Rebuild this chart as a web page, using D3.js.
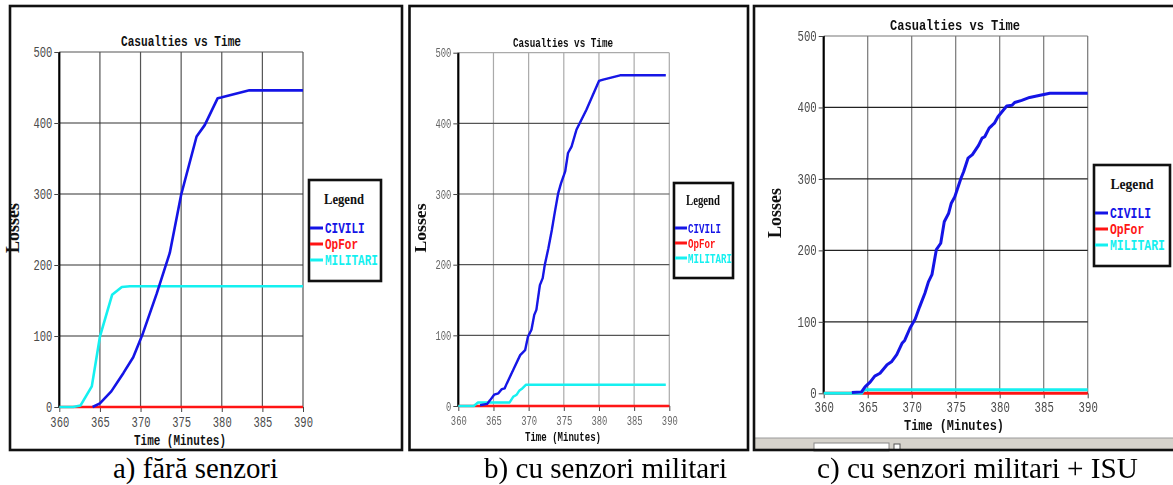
<!DOCTYPE html>
<html>
<head>
<meta charset="utf-8">
<script src="https://cdn.jsdelivr.net/npm/d3@7/dist/d3.min.js"></script>
<style>
  html, body { margin: 0; padding: 0; background: #fff; }
  svg { display: block; }
</style>
</head>
<body>
<script>
// ---- data ----
const timeTicks = [360, 365, 370, 375, 380, 385, 390];
const lossTicks = [0, 100, 200, 300, 400, 500];
const seriesNames = ["CIVILI", "OpFor", "MILITARI"];
const chartTitle = "Casualties vs Time";
const xTitle = "Time (Minutes)";
const yTitle = "Losses";
const legendTitle = "Legend";
const panelCaptions = ["a) fără senzori", "b) cu senzori militari", "c) cu senzori militari + ISU"];

// a) without sensors  [minute, losses]
const civiliA = [[364.1,0],[365,5],[366.4,22],[367.9,48],[369.1,70],[370.3,104],[372,160],[373.6,217],[375,299],[376.9,381],[377.9,397],[379.5,435],[379.9,436],[383.4,446],[390,446]];
const opforA = [[360,0],[390,0]];
const militariA = [[360,0],[361.7,0],[362.6,2],[364,29],[365,99],[366.5,158],[367.7,169],[368.7,170],[390,170]];

// b) with military sensors
const civiliB = [[363.1,1],[364.1,3],[364.5,8],[365.1,16],[365.7,18],[366.2,24],[366.6,25],[366.9,32],[367.8,51],[368.8,72],[369.5,79],[369.9,98],[370.4,108],[370.8,129],[371.1,136],[371.6,171],[372,181],[372.3,200],[372.8,223],[373.3,249],[373.7,273],[374.2,301],[374.6,315],[375.2,332],[375.6,358],[376.1,367],[376.8,391],[378.2,419],[380,460],[380.6,462],[383,468],[389.5,468]];
const opforB = [[360,0],[390,0]];
const militariB = [[360,0],[362.2,0],[362.8,5],[367.3,5],[367.8,13],[368.3,16],[368.7,22],[369,24],[369.6,30],[389.5,30]];

// c) with military sensors + ISU
const civiliC = [[363.2,1],[364.3,2],[364.7,9],[365.3,16],[365.8,24],[366.4,28],[367.2,40],[367.7,44],[368.3,54],[368.9,70],[369.2,74],[369.8,91],[370.4,104],[370.9,121],[371.5,140],[371.9,156],[372.3,166],[372.8,201],[373.3,210],[373.7,240],[374.2,252],[374.5,266],[374.9,275],[375.6,301],[375.9,310],[376.4,329],[376.9,334],[377.6,347],[378,357],[378.3,359],[378.8,371],[379.4,378],[379.8,387],[380.4,396],[380.8,402],[381.4,403],[381.7,407],[382.5,410],[383.4,414],[384.6,417],[385.7,420],[390,420]];
const opforC = [[360,0],[390,0]];
const militariC = [[360,0],[364.3,0],[364.6,5],[390,5]];

// ---- styles ----
const colors = { CIVILI: "#1414e6", OpFor: "#ff1414", MILITARI: "#14f0f0" };
const MONO = "'Liberation Mono', 'DejaVu Sans Mono', monospace";
const SERIF = "'Liberation Serif', 'Times New Roman', serif";

const W = 1173, H = 485;
const svg = d3.select("body").append("svg").attr("width", W).attr("height", H);

const defs = svg.append("defs");
defs.append("filter").attr("id", "soft").attr("x", "-5%").attr("y", "-5%").attr("width", "110%").attr("height", "110%")
  .append("feGaussianBlur").attr("stdDeviation", 0.55);

const panels = [
  {
    series: { CIVILI: civiliA, OpFor: opforA, MILITARI: militariA },
    frame: { x: 10, y: 6, w: 392, h: 444 },
    plot: { x0: 59.3, x1: 303, top: 52, bottom: 407 },
    tickFont: 14, tickCharW: 6.3, tickColor: "#4a4a4a", tickPad: 5,
    vGrid: "#555", hGrid: "#333",
    title: { x: 181, y: 46, size: 14, len: 120 },
    yLab: { x: 19, y: 228, size: 18, len: 50 },
    xLab: { x: 180, y: 445, size: 14, len: 92 },
    legend: { x: 309, y: 180, w: 72, h: 101, tx: 344, ty: 204, tsize: 14, tlen: 40, lx0: 310, lx1: 323, textX: 325, rows: [228, 244, 260], size: 14, len: 53 },
    lineW: 2.6, blur: false, caption: { x: 195.5, len: 165 }
  },
  {
    series: { CIVILI: civiliB, OpFor: opforB, MILITARI: militariB },
    frame: { x: 409.5, y: 6, w: 338.5, h: 444 },
    plot: { x0: 458.3, x1: 669.3, top: 52.7, bottom: 406 },
    tickFont: 13, tickCharW: 5.3, tickColor: "#666", tickPad: 5,
    vGrid: "#aaa", hGrid: "#555",
    title: { x: 563, y: 47, size: 13, len: 100 },
    yLab: { x: 426, y: 228, size: 17, len: 49 },
    xLab: { x: 563, y: 441, size: 13, len: 76 },
    legend: { x: 674, y: 183, w: 59, h: 95, tx: 703, ty: 205, tsize: 14, tlen: 34, lx0: 675, lx1: 687, textX: 688, rows: [228, 243, 258], size: 13, len: 44 },
    lineW: 2.4, blur: true, caption: { x: 605.5, len: 243 }
  },
  {
    series: { CIVILI: civiliC, OpFor: opforC, MILITARI: militariC },
    frame: { x: 754, y: 6, w: 425, h: 444 },
    plot: { x0: 823.7, x1: 1087.7, top: 36, bottom: 393.3 },
    tickFont: 14, tickCharW: 6.4, tickColor: "#4a4a4a", tickPad: 4,
    vGrid: "#777", hGrid: "#222",
    title: { x: 955, y: 30, size: 14.5, len: 130 },
    yLab: { x: 781, y: 213, size: 18, len: 50 },
    xLab: { x: 954, y: 430, size: 14.5, len: 100 },
    legend: { x: 1094, y: 165, w: 76, h: 101, tx: 1132, ty: 189, tsize: 15, tlen: 43, lx0: 1095, lx1: 1108, textX: 1110, rows: [213, 229, 245], size: 14, len: 55 },
    lineW: 3, blur: false, caption: { x: 977.5, len: 321 }, toolbar: true
  }
];

panels.forEach((p, i) => {
  const g = svg.append("g");
  if (p.blur) g.attr("filter", "url(#soft)");

  // panel frame (and the control strip at the bottom of the last panel)
  if (p.toolbar) {
    g.append("rect").attr("x", p.frame.x).attr("y", 438).attr("width", W - p.frame.x).attr("height", 11)
      .attr("fill", "#d6d3cc");
    g.append("line").attr("x1", p.frame.x).attr("x2", W).attr("y1", 438).attr("y2", 438).attr("stroke", "#9a9a9a");
    g.append("rect").attr("x", 814).attr("y", 443).attr("width", 75).attr("height", 8)
      .attr("fill", "#fff").attr("stroke", "#888").attr("stroke-width", 1);
    g.append("rect").attr("x", 894).attr("y", 444).attr("width", 6).attr("height", 6)
      .attr("fill", "#fff").attr("stroke", "#555").attr("stroke-width", 1);
  }
  g.append("rect").attr("x", p.frame.x).attr("y", p.frame.y).attr("width", p.frame.w).attr("height", p.frame.h)
    .attr("fill", "none").attr("stroke", "#111").attr("stroke-width", 2.6);

  const x = d3.scaleLinear().domain([360, 390]).range([p.plot.x0, p.plot.x1]);
  const y = d3.scaleLinear().domain([0, 500]).range([p.plot.bottom, p.plot.top]);

  // grid
  g.append("g").selectAll("line").data(timeTicks.slice(1)).join("line")
    .attr("x1", d => x(d)).attr("x2", d => x(d))
    .attr("y1", y(0)).attr("y2", y(500))
    .attr("stroke", p.vGrid).attr("stroke-width", 1.2);
  g.append("g").selectAll("line").data(lossTicks.slice(1)).join("line")
    .attr("x1", x(360)).attr("x2", x(390))
    .attr("y1", d => y(d)).attr("y2", d => y(d))
    .attr("stroke", d => d === 500 ? p.vGrid : p.hGrid).attr("stroke-width", 1.2);

  // axes
  const yAxis = g.append("g").attr("transform", `translate(${p.plot.x0},0)`)
    .call(d3.axisLeft(y).tickValues(lossTicks).tickSize(5).tickPadding(2).tickFormat(d3.format("d")));
  const xAxis = g.append("g").attr("transform", `translate(0,${p.plot.bottom})`)
    .call(d3.axisBottom(x).tickValues(timeTicks).tickSize(5).tickPadding(p.tickPad).tickFormat(d3.format("d")));
  [yAxis, xAxis].forEach(a => {
    a.selectAll("text").attr("font-family", MONO).attr("font-size", p.tickFont).attr("fill", p.tickColor)
      .attr("textLength", d => String(d).length * p.tickCharW).attr("lengthAdjust", "spacingAndGlyphs");
    a.selectAll(".tick line").attr("stroke", "#444").attr("stroke-width", 1);
  });
  yAxis.select(".domain").attr("stroke", "#000").attr("stroke-width", 2.2).attr("d", `M0,${y(0)}V${y(500)}`);
  xAxis.select(".domain").attr("stroke", "#000").attr("stroke-width", 1.5).attr("d", `M${x(360)},0H${x(390)}`);

  // series, drawn OpFor first, then MILITARI, then CIVILI on top
  const line = d3.line().x(d => x(d[0])).y(d => y(d[1]));
  ["OpFor", "MILITARI", "CIVILI"].forEach(name => {
    g.append("path").datum(p.series[name])
      .attr("d", line).attr("fill", "none")
      .attr("stroke", colors[name]).attr("stroke-width", p.lineW)
      .attr("stroke-linejoin", "round");
  });

  // titles
  g.append("text").attr("x", p.title.x).attr("y", p.title.y).attr("text-anchor", "middle")
    .attr("font-family", MONO).attr("font-weight", "bold").attr("font-size", p.title.size)
    .attr("textLength", p.title.len).attr("lengthAdjust", "spacingAndGlyphs")
    .attr("fill", "#111").text(chartTitle);
  g.append("text").attr("x", p.xLab.x).attr("y", p.xLab.y).attr("text-anchor", "middle")
    .attr("font-family", MONO).attr("font-weight", "bold").attr("font-size", p.xLab.size)
    .attr("textLength", p.xLab.len).attr("lengthAdjust", "spacingAndGlyphs")
    .attr("fill", "#111").text(xTitle);
  g.append("text").attr("transform", `translate(${p.yLab.x},${p.yLab.y}) rotate(-90)`)
    .attr("text-anchor", "middle")
    .attr("font-family", SERIF).attr("font-weight", "bold").attr("font-size", p.yLab.size)
    .attr("textLength", p.yLab.len).attr("lengthAdjust", "spacingAndGlyphs")
    .attr("fill", "#111").text(yTitle);

  // legend
  const L = p.legend;
  const lg = g.append("g");
  lg.append("rect").attr("x", L.x).attr("y", L.y).attr("width", L.w).attr("height", L.h)
    .attr("fill", "#fff").attr("stroke", "#111").attr("stroke-width", 2.6);
  lg.append("text").attr("x", L.tx).attr("y", L.ty).attr("text-anchor", "middle")
    .attr("font-family", SERIF).attr("font-weight", "bold").attr("font-size", L.tsize)
    .attr("textLength", L.tlen).attr("lengthAdjust", "spacingAndGlyphs")
    .attr("fill", "#111").text(legendTitle);
  seriesNames.forEach((name, k) => {
    lg.append("line").attr("x1", L.lx0).attr("x2", L.lx1).attr("y1", L.rows[k]).attr("y2", L.rows[k])
      .attr("stroke", colors[name]).attr("stroke-width", 3);
    // entry labels are condensed horizontally with a scale so their box stays inside the legend
    const t = lg.append("text").attr("x", 0).attr("y", 0).attr("dy", "0.35em")
      .attr("font-family", MONO).attr("font-weight", "bold").attr("font-size", L.size)
      .attr("fill", colors[name]).text(name);
    const natural = t.node().getComputedTextLength() || 1;
    const sx = (L.len * name.length / 8) / natural;
    t.attr("transform", `translate(${L.textX},${L.rows[k]}) scale(${sx},1)`);
  });

  // caption under the panel
  svg.append("text").attr("x", p.caption.x).attr("y", 478).attr("text-anchor", "middle")
    .attr("font-family", SERIF).attr("font-size", 29)
    .attr("textLength", p.caption.len).attr("lengthAdjust", "spacingAndGlyphs")
    .attr("fill", "#000").text(panelCaptions[i]);
});
</script>
</body>
</html>
